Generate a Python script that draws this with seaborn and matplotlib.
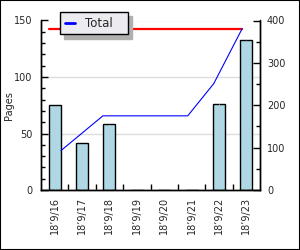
import matplotlib
matplotlib.use('Agg')
import matplotlib.pyplot as plt
import seaborn as sns
import pandas as pd
from matplotlib.patches import Rectangle
from matplotlib.ticker import MultipleLocator, FixedLocator
from matplotlib.lines import Line2D

# ---- data ----
dates = ["18’9/16", "18’9/17", "18’9/18", "18’9/19", "18’9/20", "18’9/21", "18’9/22", "18’9/23"]
pages = [75, 42, 58, 0, 0, 0, 76, 133]
total_x = [0.23, 1.76, 4.86, 5.81, 6.85]
total_y = [93, 175, 175, 251, 381]
max_x = [-0.21, 6.85]
max_total = 381

sns.set_style("white")
plt.rcParams['font.family'] = ['DejaVu Sans']

fig = plt.figure(figsize=(3, 2.5), dpi=100)
ax = fig.add_axes([41 / 300, 60 / 250, 219 / 300, 169.5 / 250])

df = pd.DataFrame({'date': dates, 'pages': pages})
sns.barplot(data=df, x='date', y='pages', ax=ax, color='#add8e6', saturation=1,
            width=0.44, edgecolor='black', linewidth=1, zorder=2)
ax.vlines(range(len(pages)), 0, pages, colors='#f2b4b4', linestyles=(0, (1, 2.5)),
          lw=0.7, zorder=3)

ax.set_xlim(-0.5, len(dates) - 0.5)
ax.set_ylim(0, 150)
ax.set_axisbelow(True)
ax.yaxis.set_major_locator(MultipleLocator(50))
ax.yaxis.set_minor_locator(MultipleLocator(10))
ax.grid(axis='y', which='major', color='#dddddd', lw=1)
ax.grid(axis='x', visible=False)
ax.set_xlabel('')
ax.set_ylabel('Pages', fontsize=7)
ax.yaxis.set_label_coords(-0.125, 0.5)

ax.tick_params(axis='y', which='major', direction='in', length=5, width=1,
               labelsize=7, pad=6, color='black')
ax.tick_params(axis='y', which='minor', direction='in', length=3, width=1, color='black', left=True)
ax.xaxis.set_minor_locator(FixedLocator([i + 0.5 for i in range(len(dates) - 1)]))
ax.tick_params(axis='x', which='major', length=0, labelsize=7, pad=5, labelrotation=90)
ax.tick_params(axis='x', which='minor', direction='in', length=4, width=1, color='black', bottom=True)

for s in ['left', 'bottom', 'right']:
    ax.spines[s].set_color('black')
    ax.spines[s].set_linewidth(1)
ax.spines['top'].set_visible(False)

ax2 = ax.twinx()
ax2.set_ylim(0, 400)
ax2.plot(max_x, [max_total, max_total], color='red', lw=1.6, zorder=4)
ax2.plot(total_x, total_y, color='blue', lw=0.8, zorder=5)
ax2.yaxis.set_major_locator(MultipleLocator(100))
ax2.yaxis.set_minor_locator(MultipleLocator(50))
ax2.tick_params(axis='y', which='major', direction='in', length=5, width=1,
                labelsize=7, pad=5, color='black')
ax2.tick_params(axis='y', which='minor', direction='in', length=3, width=1, color='black', right=True)
ax2.grid(False)
for s in ['left', 'bottom', 'right']:
    ax2.spines[s].set_color('black')
    ax2.spines[s].set_linewidth(1)
ax2.spines['top'].set_visible(False)

handle = Line2D([], [], color='blue', lw=2)
leg_w = 68 / 219
leg_h = 22 / 169.5
leg_top = (190 - 12) / 169.5
leg = ax2.legend([handle], ['Total'], loc='upper left',
                 bbox_to_anchor=(19 / 219, leg_top - leg_h, leg_w, leg_h), mode='expand',
                 borderaxespad=0, fontsize=8.5, handlelength=0.9, handletextpad=0.8,
                 borderpad=0.4, fancybox=False, framealpha=1, facecolor='#ebebf0',
                 edgecolor='black', shadow={'color': '#b0b0b0', 'alpha': 1, 'ox': 3, 'oy': -3})
leg.get_frame().set_linewidth(1)

fig.add_artist(Rectangle((0, 0), 1, 1, transform=fig.transFigure, fill=False,
                         edgecolor='black', lw=1.5))

fig.savefig('out.png', dpi=100)
